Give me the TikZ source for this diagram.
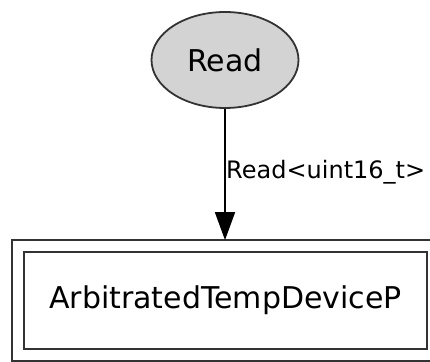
\documentclass[tikz,border=0pt]{standalone}
\usepackage{fontspec}
\setmainfont{DejaVu Sans}
\usetikzlibrary{arrows.meta,shapes.geometric}
\definecolor{nodegray}{HTML}{D3D3D3}
\definecolor{linegray}{HTML}{333333}
\tikzset{
  basic/.style={line width=1.8pt, draw=linegray},
  readnode/.style={basic, ellipse, fill=nodegray, minimum width=147pt, minimum height=96pt, inner sep=0pt, font=\fontsize{30}{35}\selectfont},
  compbox/.style={basic, rectangle, minimum width=403pt, minimum height=97pt, inner sep=0pt, font=\fontsize{30}{35}\selectfont},
  edgelabel/.style={font=\fontsize{24}{28}\selectfont, inner sep=0pt, anchor=west},
  link/.style={line width=1.8pt, draw=black, -{Triangle[length=28pt,width=20pt]}}
}
\begin{document}
\begin{tikzpicture}[x=1pt,y=1pt]
\useasboundingbox (0,0) rectangle (430,361);
\clip (0,0) rectangle (430,361);
\fill[white] (0,0) rectangle (430,361);
\node[readnode] (read) at (225,301) {Read};
\node[compbox] (box) at (225.5,60.5) {ArbitratedTempDeviceP};
\draw[basic] ([shift={(-11pt,-11pt)}]box.south west) rectangle ([shift={(11pt,11pt)}]box.north east);
\coordinate (outertop) at ([yshift=11pt]box.north -| read.south);
\draw[link] (read.south) -- (outertop);
\node[edgelabel] (lbl) at (226,189) {Read<uint16\_t>};
\end{tikzpicture}
\end{document}
